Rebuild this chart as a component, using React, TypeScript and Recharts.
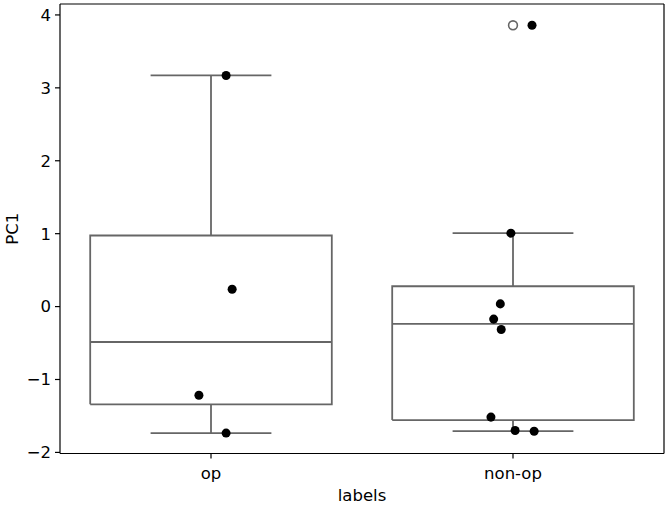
import {
  ComposedChart,
  Line,
  ReferenceLine,
  Scatter,
  XAxis,
  YAxis,
} from "recharts";

const categories = ["op", "non-op"];

// box statistics per category
const q1 = [-1.34, -1.557];
const medians = [-0.486, -0.236];
const q3 = [0.975, 0.279];
const whiskerLow = [-1.735, -1.707];
const whiskerHigh = [3.17, 1.007];

// fliers (category index, value)
const outlierCats = [1];
const outlierValues = [3.858];

// strip points with their horizontal jitter
const opValues = [3.17, 0.238, -1.216, -1.735];
const opJitter = [0.05, 0.07, -0.04, 0.05];
const nonOpValues = [3.858, 1.007, 0.037, -0.172, -0.314, -1.516, -1.7, -1.71];
const nonOpJitter = [0.063, -0.007, -0.042, -0.064, -0.039, -0.073, 0.007, 0.07];

const yTicks = [-2, -1, 0, 1, 2, 3, 4];
const xDomain = [-0.5, 1.5];
const yDomain = [-2.015, 4.15];

const BOX_HALF = 0.4;
const CAP_HALF = 0.2;
const GREY = "#666666";
const FONT = "DejaVu Sans, sans-serif";

function boxSegments(i: number) {
  const c = i;
  return [
    [
      { x: c - BOX_HALF, y: q1[i] },
      { x: c + BOX_HALF, y: q1[i] },
      { x: c + BOX_HALF, y: q3[i] },
      { x: c - BOX_HALF, y: q3[i] },
      { x: c - BOX_HALF, y: q1[i] },
    ],
    [
      { x: c - BOX_HALF, y: medians[i] },
      { x: c + BOX_HALF, y: medians[i] },
    ],
    [
      { x: c, y: q1[i] },
      { x: c, y: whiskerLow[i] },
    ],
    [
      { x: c, y: q3[i] },
      { x: c, y: whiskerHigh[i] },
    ],
    [
      { x: c - CAP_HALF, y: whiskerLow[i] },
      { x: c + CAP_HALF, y: whiskerLow[i] },
    ],
    [
      { x: c - CAP_HALF, y: whiskerHigh[i] },
      { x: c + CAP_HALF, y: whiskerHigh[i] },
    ],
  ];
}

const segments = categories.flatMap((_, i) => boxSegments(i));

const stripPoints = [
  ...opValues.map((y, k) => ({ x: 0 + opJitter[k], y })),
  ...nonOpValues.map((y, k) => ({ x: 1 + nonOpJitter[k], y })),
];

const fliers = outlierCats.map((c, k) => ({ x: c, y: outlierValues[k] }));

const fmtY = (v: number) => (v < 0 ? `\u2212${Math.abs(v)}` : `${v}`);

function HollowDot(props: { cx?: number; cy?: number }) {
  return (
    <circle cx={props.cx} cy={props.cy} r={4.4} fill="none" stroke={GREY} strokeWidth={1.6} />
  );
}

export default function App() {
  const tickStyle = { fill: "#000", fontSize: 16.5, fontFamily: FONT };
  return (
    <div style={{ position: "absolute", left: 0, top: 0, background: "#fff" }}>
      <ComposedChart
        width={667}
        height={505}
        margin={{ top: 4, right: 3, left: 0, bottom: 0 }}
      >
        <XAxis
          xAxisId="main"
          dataKey="x"
          type="number"
          domain={xDomain}
          allowDataOverflow
          ticks={[0, 1]}
          tickFormatter={(v: number) => categories[v] ?? ""}
          tick={tickStyle}
          tickSize={5}
          tickMargin={9}
          height={51.5}
          stroke="#000"
          strokeWidth={1.2}
          tickLine={{ stroke: "#000" }}
          label={({ viewBox }: any) => (
            <text
              x={viewBox.x + viewBox.width / 2}
              y={viewBox.y + 47}
              textAnchor="middle"
              fontSize={16.5}
              fontFamily={FONT}
              fill="#000"
            >
              labels
            </text>
          )}
        />
        <YAxis
          yAxisId="main"
          type="number"
          domain={yDomain}
          allowDataOverflow
          ticks={yTicks}
          tickFormatter={fmtY}
          tick={tickStyle}
          tickSize={5}
          tickMargin={4}
          width={60}
          stroke="#000"
          strokeWidth={1.2}
          label={({ viewBox }: any) => (
            <text
              x={12}
              y={viewBox.y + viewBox.height / 2}
              textAnchor="middle"
              dominantBaseline="central"
              transform={`rotate(-90, 12, ${viewBox.y + viewBox.height / 2})`}
              fontSize={16.5}
              fontFamily={FONT}
              fill="#000"
            >
              PC1
            </text>
          )}
        />
        {/* top and right spines */}
        <ReferenceLine
          xAxisId="main"
          yAxisId="main"
          y={yDomain[1]}
          stroke="#000"
          strokeWidth={1.2}
        />
        <ReferenceLine
          xAxisId="main"
          yAxisId="main"
          x={xDomain[1]}
          stroke="#000"
          strokeWidth={1.2}
        />
        {segments.map((seg, i) => (
          <Line
            key={`seg-${i}`}
            xAxisId="main"
            yAxisId="main"
            data={seg}
            dataKey="y"
            type="linear"
            stroke={GREY}
            strokeWidth={1.8}
            dot={false}
            activeDot={false}
            isAnimationActive={false}
            legendType="none"
          />
        ))}
        <Scatter
          xAxisId="main"
          yAxisId="main"
          data={fliers}
          dataKey="y"
          shape={<HollowDot />}
          isAnimationActive={false}
        />
        <Scatter
          xAxisId="main"
          yAxisId="main"
          data={stripPoints}
          dataKey="y"
          fill="#000"
          isAnimationActive={false}
        />
      </ComposedChart>
    </div>
  );
}
